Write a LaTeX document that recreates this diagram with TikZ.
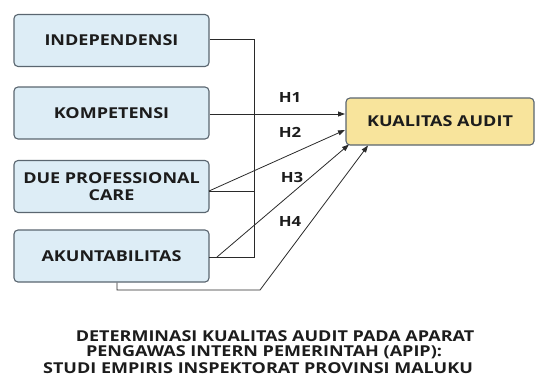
\documentclass[tikz,border=0pt]{standalone}
\usepackage{fontspec}
\setmainfont{Open Sans}[FakeStretch=1.2]
\usetikzlibrary{arrows.meta}
\definecolor{boxblue}{HTML}{DDEDF6}
\definecolor{boxedge}{HTML}{5A6670}
\definecolor{boxyellow}{HTML}{F8E49C}
\definecolor{lineclr}{HTML}{2A2A2A}
\definecolor{txt}{HTML}{1C1C1C}
\tikzset{
  varbox/.style={draw=boxedge, line width=1.1pt, fill=boxblue, rounded corners=4pt, minimum width=195pt, minimum height=52pt, align=center, font=\bfseries\fontsize{15}{17}\selectfont, text=txt, inner sep=0pt},
  depbox/.style={draw=boxedge, line width=1.1pt, fill=boxyellow, rounded corners=4pt, minimum width=188pt, minimum height=47pt, font=\bfseries\fontsize{15}{17}\selectfont, text=txt, inner sep=0pt},
  conn/.style={draw=lineclr, line width=0.8pt},
  arr/.style={conn, -{Triangle[length=7pt,width=5pt]}},
  hlab/.style={font=\bfseries\fontsize{14}{16}\selectfont, text=txt},
  title/.style={font=\bfseries\fontsize{15}{17}\selectfont, text=txt, inner sep=0pt}
}
\begin{document}
\begin{tikzpicture}[x=1pt,y=-1pt]
\useasboundingbox (0,0) rectangle (537,381);
\node[varbox] (ind) at (111.5,40.5) {INDEPENDENSI};
\node[varbox] (kom) at (111.5,113) {KOMPETENSI};
\node[varbox] (due) at (111.5,186.5) {DUE PROFESSIONAL\\CARE};
\node[varbox] (aku) at (111.5,256) {AKUNTABILITAS};
\node[depbox] (ka) at (440,121.5) {KUALITAS AUDIT};
\coordinate (b1) at (254,39);
\coordinate (b2) at (254,257);
\coordinate (b3) at (254,191);
\coordinate (dueR) at (209,191);
\coordinate (akuR) at (209,257);
\coordinate (akuS) at (217,257);
\coordinate (bot1) at (117,290);
\coordinate (bot2) at (260,290);
\coordinate (t1) at (345,114);
\coordinate (t2) at (345,130);
\coordinate (t3) at (349,144.5);
\coordinate (t4) at (368,145.5);
% bus
\draw[conn] (ind.east |- b1) -- (b1) -- (b2) -- (akuR);
\draw[conn] (dueR) -- (b3);
% H1
\draw[arr] (kom.east |- t1) -- (t1);
% H2
\draw[arr] (dueR) -- (t2);
% H3
\draw[arr] (akuS) -- (t3);
% H4
\draw[arr] (aku.south -| bot1) -- (bot1) -- (bot2) -- (t4);
\node[hlab] (h1) at (290,97) {H1};
\node[hlab] (h2) at (290,132) {H2};
\node[hlab] (h3) at (292,177) {H3};
\node[hlab] (h4) at (290,221) {H4};
\node[title] (l1) at (275,336) {DETERMINASI KUALITAS AUDIT PADA APARAT};
\node[title] (l2) at (264,352) {PENGAWAS INTERN PEMERINTAH (APIP):};
\node[title] (l3) at (258,368) {STUDI EMPIRIS INSPEKTORAT PROVINSI MALUKU};
\end{tikzpicture}
\end{document}
